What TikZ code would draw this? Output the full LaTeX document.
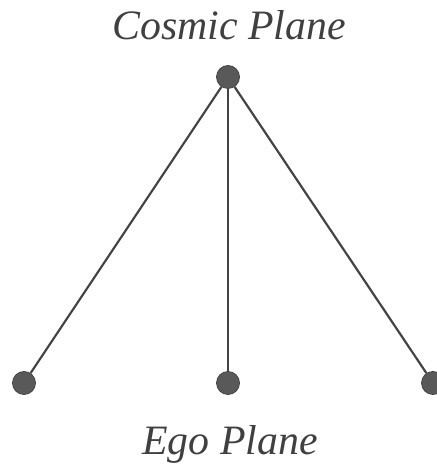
\documentclass[tikz,border=0pt]{standalone}
\usepackage{fontspec}
\setmainfont{Liberation Serif}
\usetikzlibrary{positioning}
\definecolor{dotgray}{HTML}{595959}
\definecolor{linegray}{HTML}{444444}
\definecolor{textgray}{HTML}{404040}

\begin{document}
\begin{tikzpicture}[x=1bp,y=1bp,
 dot/.style={circle,draw=linegray,line width=0.8bp,fill=dotgray,
 minimum size=23bp,inner sep=0pt},
 plane/.style={anchor=base,text=textgray,
 font=\fontsize{42}{48}\selectfont\itshape},
 link/.style={draw=linegray,line width=2.2bp}]
\useasboundingbox (0,0) rectangle (437,468);
\node[dot] (top) at (228,391) {};
\node[dot] (left) at (24,85) {};
\node[dot] (mid) at (228,85) {};
\node[dot] (right) at (433,85) {};
\node[plane] (cosmic) at (229,428) {Cosmic Plane};
\node[plane] (ego) at (230,13) {Ego Plane};
\draw[link] (top)--(left);
\draw[link] (top)--(mid);
\draw[link] (top)--(right);
\end{tikzpicture}
\end{document}
